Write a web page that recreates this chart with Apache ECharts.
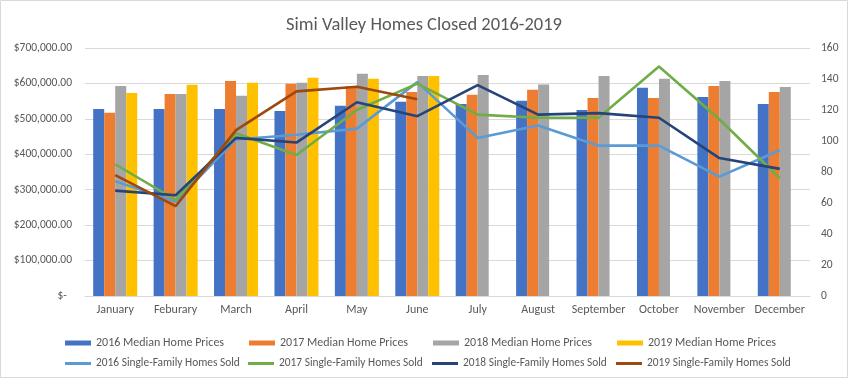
<!DOCTYPE html>
<html>
<head>
<meta charset="utf-8">
<script src="https://cdn.jsdelivr.net/npm/echarts@6/dist/echarts.min.js"></script>
<style>
html,body{margin:0;padding:0;background:#fff;}
#chart{width:848px;height:378px;}
</style>
</head>
<body>
<div id="chart"></div>
<script>
var months = ['January','Feburary','March','April','May','June','July','August','September','October','November','December'];
var price2016 = [528000, 528000, 528000, 522000, 537000, 548000, 542000, 551000, 525000, 588000, 562000, 542000];
var price2017 = [517000, 570000, 607000, 599000, 591000, 576000, 568000, 582000, 559000, 559000, 593000, 576000];
var price2018 = [593000, 570000, 565000, 602000, 627000, 621000, 624000, 597000, 621000, 613000, 607000, 590000];
var price2019 = [573000, 596000, 602000, 616000, 613000, 621000, null, null, null, null, null, null];
var sold2016 = [74, 61, 101, 104, 108, 138, 102, 110, 97, 97, 77, 94];
var sold2017 = [85, 62, 105, 91, 120, 137, 117, 115, 115, 148, 114, 76];
var sold2018 = [68, 65, 102, 99, 125, 116, 136, 117, 118, 115, 89, 82];
var sold2019 = [78, 58, 107, 132, 135, 127, null, null, null, null, null, null];

var barNames = ['2016 Median Home Prices','2017 Median Home Prices','2018 Median Home Prices','2019 Median Home Prices'];
var lineNames = ['2016 Single-Family Homes Sold','2017 Single-Family Homes Sold','2018 Single-Family Homes Sold','2019 Single-Family Homes Sold'];
var barColors = ['#4472C4','#ED7D31','#A5A5A5','#FFC000'];
var lineColors = ['#5B9BD5','#70AD47','#264478','#9E480E'];
var priceData = [price2016, price2017, price2018, price2019];
var soldData = [sold2016, sold2017, sold2018, sold2019];

var txt = '#595959';
var font = "Carlito,'Liberation Sans',Arial,sans-serif";
var series = [];
for (var i = 0; i < 4; i++) {
  series.push({
    name: barNames[i], type: 'bar', yAxisIndex: 0, data: priceData[i],
    barWidth: 11, barGap: '0%', itemStyle: {color: barColors[i]}
  });
}
for (var j = 0; j < 4; j++) {
  series.push({
    name: lineNames[j], type: 'line', yAxisIndex: 1, data: soldData[j],
    showSymbol: false, symbol: 'none', lineStyle: {color: lineColors[j], width: 2.6},
    itemStyle: {color: lineColors[j]}, z: 3
  });
}

var row1Left = [60, 244, 428, 612];
var row2Left = [60, 243, 427, 611];
var legends = [];
for (var k = 0; k < 4; k++) {
  legends.push({data: [barNames[k]], left: row1Left[k], top: 332, icon: 'rect', itemWidth: 26, itemHeight: 5, itemTextGap: 3,
    textStyle: {color: txt, fontSize: 12, fontFamily: font}});
  legends.push({data: [lineNames[k]], left: row2Left[k], top: 353, icon: 'rect', itemWidth: 26, itemHeight: 3, itemTextGap: 2,
    textStyle: {color: txt, fontSize: 11.4, fontFamily: font}});
}

var chart = echarts.init(document.getElementById('chart'));
chart.setOption({
  animation: false,
  backgroundColor: '#fff',
  title: {
    text: 'Simi Valley Homes Closed 2016-2019', left: 'center', top: 11,
    textStyle: {color: txt, fontSize: 18.5, fontWeight: 'normal', fontFamily: font}
  },
  graphic: [{type: 'rect', shape: {x: 0.5, y: 0.5, width: 847, height: 377}, style: {fill: 'none', stroke: '#d9d9d9', lineWidth: 1}, silent: true}],
  legend: legends,
  grid: {left: 85, right: 38, top: 48, bottom: 82, containLabel: false},
  xAxis: {
    type: 'category', data: months,
    axisLine: {lineStyle: {color: '#d9d9d9'}}, axisTick: {show: false},
    axisLabel: {color: txt, fontSize: 12, margin: 8, interval: 0, fontFamily: font}
  },
  yAxis: [
    {type: 'value', min: 0, max: 700000, interval: 100000,
     axisLine: {show: false}, axisTick: {show: false},
     splitLine: {lineStyle: {color: '#d9d9d9'}},
     axisLabel: {color: txt, fontSize: 11.5, margin: 13, fontFamily: font,
       formatter: function (v) { return v === 0 ? '$-  ' : '$' + v.toLocaleString('en-US', {minimumFractionDigits: 2, maximumFractionDigits: 2}); }}},
    {type: 'value', min: 0, max: 160, interval: 20,
     axisLine: {show: false}, axisTick: {show: false}, splitLine: {show: false},
     axisLabel: {color: txt, fontSize: 11.5, margin: 11, fontFamily: font}}
  ],
  series: series
});
</script>
</body>
</html>
